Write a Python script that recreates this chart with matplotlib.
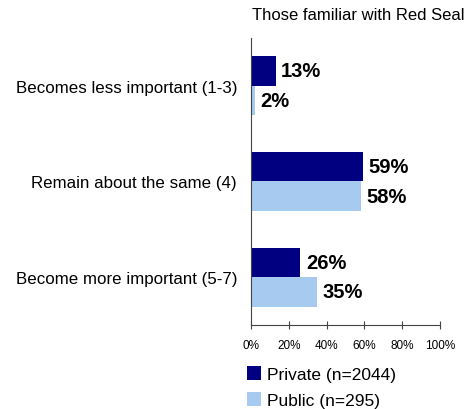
import numpy as np
import matplotlib
matplotlib.use("Agg")
import matplotlib.pyplot as plt

plt.rcParams['font.family'] = ['Liberation Sans', 'DejaVu Sans']

categories = ["Becomes less important (1-3)", "Remain about the same (4)", "Become more important (5-7)"]
private = [13, 59, 26]
public = [2, 58, 35]
ticks = [0, 20, 40, 60, 80, 100]

fig = plt.figure(figsize=(4.68, 4.10), dpi=100)
ax = fig.add_axes([0.5363, 0.2049, 0.4039, 0.7000])

y = np.arange(len(categories))
h = 0.31
b1 = ax.barh(y - h/2, private, height=h, color="#000080", label="Private (n=2044)")
b2 = ax.barh(y + h/2, public, height=h, color="#A6CAF0", label="Public (n=295)")

for bars, vals in ((b1, private), (b2, public)):
    for bar, v in zip(bars, vals):
        ax.text(bar.get_width() + 3, bar.get_y() + bar.get_height()/2, f"{v}%",
                va="center", ha="left", fontsize=14.5, fontweight="bold")

ax.set_ylim(len(categories) - 0.5, -0.5)
ax.set_xlim(0, 100)
ax.set_xticks(ticks)
ax.set_xticklabels([f"{t}%" for t in ticks], fontsize=8.5)
ax.set_yticks(y)
ax.set_yticklabels(categories, fontsize=12.2)
ax.tick_params(axis="y", length=0, pad=10)
ax.tick_params(axis="x", length=6, direction="inout", color="#444444", pad=7)
for s in ("top", "right"):
    ax.spines[s].set_visible(False)
for s in ("left", "bottom"):
    ax.spines[s].set_color("#444444")

fig.text(0.993, 0.963, "Those familiar with Red Seal", ha="right", va="center",
         fontsize=12)

fig.legend(handles=[b1, b2], loc="upper left", bbox_to_anchor=(0.527, 0.104),
           frameon=False, fontsize=12.5, handlelength=0.8, handleheight=0.8,
           handletextpad=0.4, labelspacing=0.6, borderpad=0, borderaxespad=0)

fig.savefig("out.png", dpi=100)
